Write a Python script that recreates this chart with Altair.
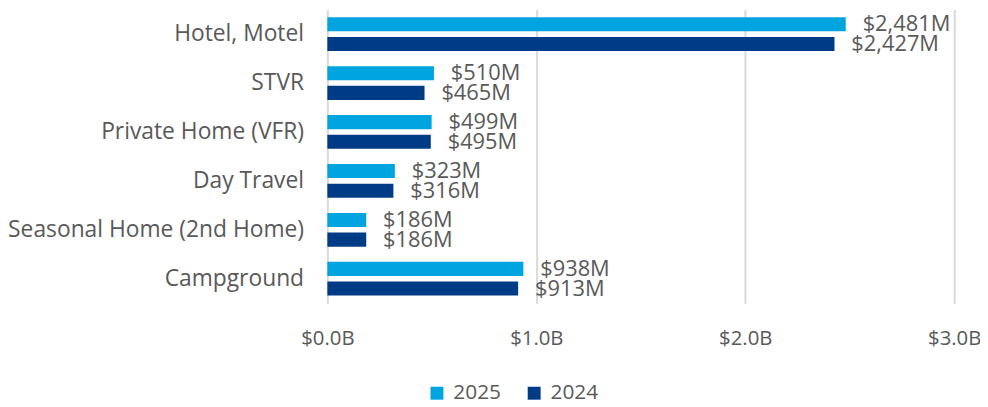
import altair as alt
import pandas as pd

categories = ["Hotel, Motel", "STVR", "Private Home (VFR)", "Day Travel",
              "Seasonal Home (2nd Home)", "Campground"]
years = ["2025", "2024"]
values_2025 = [2481, 510, 499, 323, 186, 938]
values_2024 = [2427, 465, 495, 316, 186, 913]
x_ticks = [0, 1000, 2000, 3000]

rows = []
for c, v25, v24 in zip(categories, values_2025, values_2024):
    rows.append({"category": c, "year": "2025", "value": v25})
    rows.append({"category": c, "year": "2024", "value": v24})
df = pd.DataFrame(rows)

FONT = "Open Sans"
GREY = "#595959"

y_enc = alt.Y("category:N", sort=categories, title=None,
              scale=alt.Scale(paddingInner=0.31, paddingOuter=0.155),
              axis=alt.Axis(labelFontSize=23, labelColor=GREY, labelFont=FONT,
                            labelPadding=24, ticks=False, domain=False, labelLimit=400))
yoff = alt.YOffset("year:N", sort=years,
                   scale=alt.Scale(paddingInner=0.285, paddingOuter=0))
x_enc = alt.X("value:Q", title=None,
              scale=alt.Scale(domain=[0, 3000], nice=False),
              axis=alt.Axis(values=x_ticks,
                            labelExpr="'$' + format(datum.value/1000, '.1f') + 'B'",
                            labelFontSize=20.5, labelColor=GREY, labelFont=FONT,
                            labelPadding=26, labelFlush=False, labelOverlap=False,
                            ticks=False, domain=False,
                            grid=True, gridColor="#d9d9d9", gridWidth=2))

base = alt.Chart(df).encode(x=x_enc, y=y_enc, yOffset=yoff)

bars = base.mark_bar().encode(
    color=alt.Color("year:N", sort=years,
                    scale=alt.Scale(domain=years, range=["#00A5E0", "#003C86"]),
                    legend=alt.Legend(title=None, orient="none", direction="horizontal",
                                      legendX=100, legendY=376,
                                      symbolType="square", symbolSize=170,
                                      symbolStrokeWidth=0,
                                      labelFontSize=21, labelColor=GREY, labelFont=FONT,
                                      labelOffset=6, columnPadding=22)),
)

labels = base.mark_text(align="left", baseline="middle", dx=17, fontSize=22,
                        color=GREY, font=FONT).encode(
    text=alt.Text("label:N"),
).transform_calculate(label="'$' + format(datum.value, ',') + 'M'")

chart = alt.layer(bars, labels).properties(
    width=632, height=296,
    autosize=alt.AutoSizeParams(type="none"),
    padding={"left": 322, "top": 0, "right": 26, "bottom": 100},
).configure(font=FONT).configure_view(stroke=None)

chart.save("out.html", embed_options={"renderer": "svg", "actions": False})
